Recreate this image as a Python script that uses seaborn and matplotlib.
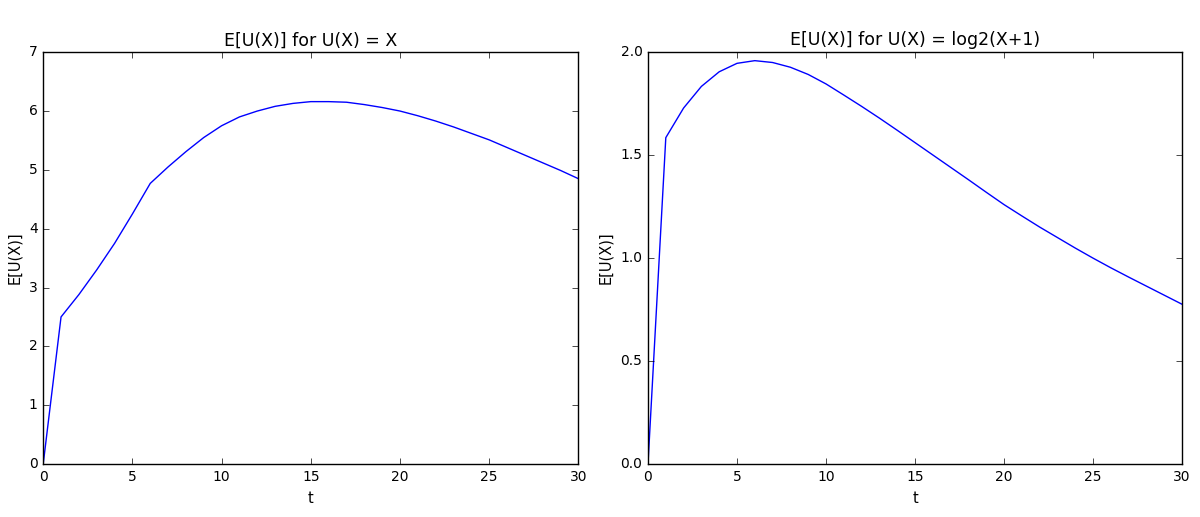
import seaborn as sns
import matplotlib.pyplot as plt
import pandas as pd

# t 取 0..30
t = list(range(31))

# U(X) = X 的期望
eu_linear = [0, 2.50, 2.88, 3.30, 3.75, 4.25, 4.77, 5.05, 5.31, 5.55, 5.75,
             5.90, 6.00, 6.08, 6.13, 6.16, 6.16, 6.15, 6.11, 6.06, 6.00,
             5.92, 5.83, 5.73, 5.62, 5.51, 5.38, 5.25, 5.12, 4.99, 4.85]

# U(X) = log2(X+1) 的期望
eu_log = [0, 1.585, 1.729, 1.834, 1.905, 1.946, 1.959, 1.950, 1.927, 1.892, 1.846,
          1.792, 1.737, 1.680, 1.621, 1.561, 1.501, 1.441, 1.381, 1.320, 1.260,
          1.205, 1.151, 1.100, 1.049, 1.000, 0.953, 0.908, 0.864, 0.820, 0.776]

titles = ["E[U(X)] for U(X) = X", "E[U(X)] for U(X) = log2(X+1)"]

plt.style.use('classic')
plt.rcParams['font.family'] = ['DejaVu Sans']
plt.rcParams['font.size'] = 10
plt.rcParams['figure.facecolor'] = 'white'
plt.rcParams['savefig.facecolor'] = 'white'

fig = plt.figure(figsize=(12, 5.17), dpi=100)
ax1 = fig.add_axes([0.036, 0.1025, 0.446, 0.7965])
ax2 = fig.add_axes([0.540, 0.1025, 0.445, 0.7965])

df = pd.DataFrame({'t': t, 'linear': eu_linear, 'log': eu_log})

sns.lineplot(data=df, x='t', y='linear', ax=ax1, color='b', linewidth=1.0)
ax1.set_xlim(0, 30)
ax1.set_ylim(0, 7)
ax1.set_title(titles[0], fontsize=12.5)

sns.lineplot(data=df, x='t', y='log', ax=ax2, color='b', linewidth=1.0)
ax2.set_xlim(0, 30)
ax2.set_ylim(0, 2.0)
ax2.set_yticks([0.0, 0.5, 1.0, 1.5, 2.0])
ax2.set_title(titles[1], fontsize=12.5)

for ax in (ax1, ax2):
    ax.set_xlabel("t", fontsize=10.5)
    ax.set_ylabel("E[U(X)]", fontsize=10.5)
    ax.tick_params(labelsize=10)

plt.savefig("out.png", dpi=100)
